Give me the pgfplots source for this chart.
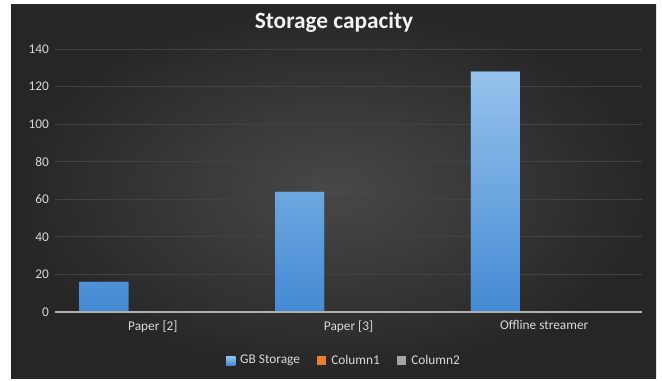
\documentclass[border=0pt]{standalone}
\usepackage{pgfplots}
\pgfplotsset{compat=1.18}
\usepackage{fontspec}
\setmainfont{Carlito}

\definecolor{bgin}{RGB}{72,72,72}
\definecolor{bgout}{RGB}{38,38,38}
\definecolor{txt}{RGB}{217,217,217}
\definecolor{gridc}{RGB}{66,66,66}
\definecolor{zeroc}{RGB}{175,175,175}
\definecolor{bartop}{RGB}{150,195,236}
\definecolor{barbot}{RGB}{68,138,212}
\definecolor{sblue}{RGB}{91,155,213}
\definecolor{sorange}{RGB}{237,125,49}
\definecolor{sgray}{RGB}{165,165,165}

\begin{document}
\begin{tikzpicture}
  % page and chart background (1 unit = 0.75pt)
  \begin{scope}[x=0.75pt,y=0.75pt]
    \fill[white] (0,0) rectangle (662,380);
    \shade[inner color=bgin, outer color=bgout] (11,2) rectangle (656,376);
    \node[font=\bfseries\fontsize{17.5}{20}\selectfont, text=white!95!black] at (334,358) {Storage capacity};
  \end{scope}

  \begin{axis}[
    at={(41.25pt,51pt)}, anchor=south west,
    scale only axis,
    width=440.25pt, height=197.25pt,
    xmin=-0.5, xmax=2.5,
    ymin=0, ymax=140,
    ytick={0,20,...,140},
    xtick={0,1,2},
    xticklabels={Paper [2], Paper [3], Offline streamer},
    axis line style={draw=none},
    major tick length=0pt,
    ymajorgrids,
    grid style={gridc, line width=0.6pt},
    tick label style={font=\fontsize{10}{12}\selectfont, text=txt},
    /pgf/number format/assume math mode=true,
    yticklabel style={xshift=-1pt},
    xticklabel style={yshift=-3pt},
    legend style={at={(0.493,-0.185)}, anchor=center, draw=none, fill=none,
      font=\fontsize{10}{12}\selectfont, text=txt,
      legend columns=3,
      /tikz/every even column/.append style={column sep=11pt}},
    legend image code/.code={\fill (0pt,-3.4pt) rectangle (6.8pt,3.4pt); \path (8.5pt,0pt);},
    clip=false,
  ]
    \addplot[ybar, bar width=0.25, bar shift=-0.25, draw=none,
      top color=bartop, bottom color=barbot, fill=sblue]
      coordinates {(0,16) (1,64) (2,128)};
    \addlegendentry{GB Storage}
    \addlegendimage{fill=sorange, draw=none}
    \addlegendentry{Column1}
    \addlegendimage{fill=sgray, draw=none}
    \addlegendentry{Column2}
    \draw[zeroc, line width=0.8pt] (axis cs:-0.5,0) -- (axis cs:2.5,0);
  \end{axis}
\end{tikzpicture}
\end{document}
